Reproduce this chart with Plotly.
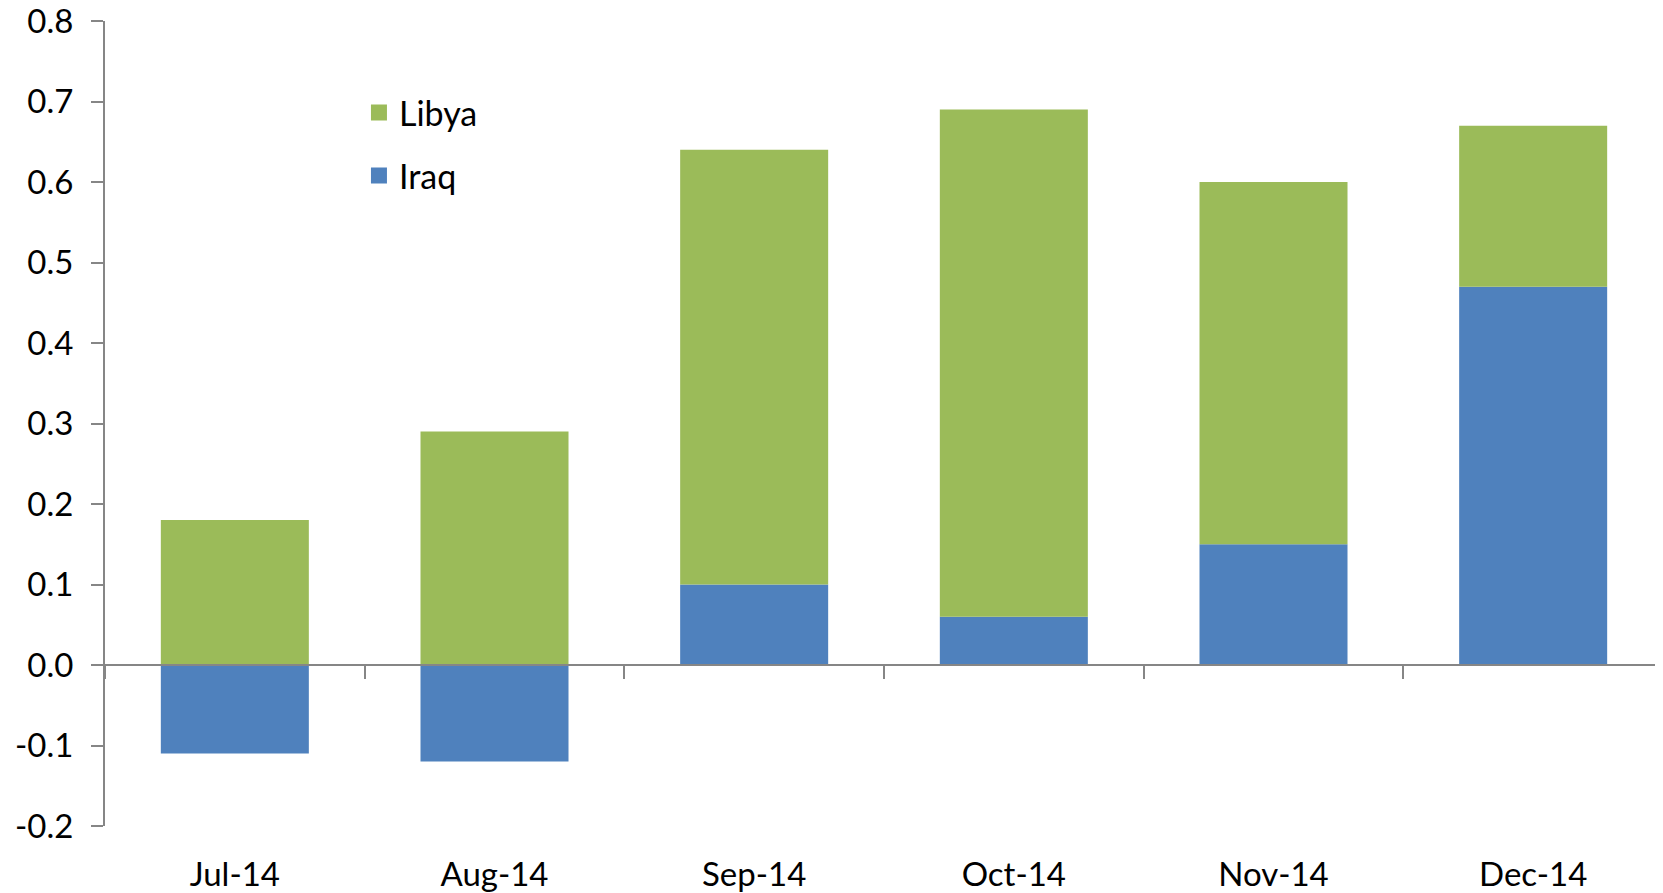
import plotly.graph_objects as go

months = ["Jul-14", "Aug-14", "Sep-14", "Oct-14", "Nov-14", "Dec-14"]
iraq = [-0.11, -0.12, 0.10, 0.06, 0.15, 0.47]
libya = [0.18, 0.29, 0.54, 0.63, 0.45, 0.20]
y_ticks = [-0.2, -0.1, 0.0, 0.1, 0.2, 0.3, 0.4, 0.5, 0.6, 0.7, 0.8]

GREEN = "#9BBB59"
BLUE = "#4F81BD"
AXIS = "#868686"
FONT = "Lato"

fig = go.Figure()
fig.add_bar(x=months, y=iraq, name="Iraq", marker_color=BLUE, marker_line_width=0, showlegend=False)
fig.add_bar(x=months, y=libya, name="Libya", marker_color=GREEN, marker_line_width=0, showlegend=False)

# legend entries
fig.add_scatter(x=[None], y=[None], mode="markers", name="Libya", legendgroup="a",
                marker=dict(symbol="square", size=16, color=GREEN))
fig.add_scatter(x=[None], y=[None], mode="markers", name="Iraq", legendgroup="b",
                marker=dict(symbol="square", size=16, color=BLUE))

n = len(months)
boundaries = [i - 0.5 for i in range(n + 1)]

# page body has an 8px margin, so the figure is 8px smaller on each side
fig.update_layout(
    width=1655, height=885,
    barmode="relative", bargap=0.43,
    plot_bgcolor="white", paper_bgcolor="white",
    margin=dict(l=97, r=0, t=13, b=67),
    font=dict(family=FONT, size=33, color="black"),
    legend=dict(x=0.163, y=0.922, xanchor="left", yanchor="top",
                traceorder="grouped", tracegroupgap=16,
                font=dict(size=34), bgcolor="rgba(0,0,0,0)"),
    xaxis=dict(type="category", showline=False, ticks="", showgrid=False,
               zeroline=False, ticklabelstandoff=26, automargin=False),
    xaxis2=dict(overlaying="x", anchor="free", position=0.2, range=[-0.5, n - 0.5],
                tickvals=boundaries, ticks="outside", ticklen=13, tickwidth=1.5,
                tickcolor=AXIS, showline=True, linecolor=AXIS, linewidth=2,
                showticklabels=False, showgrid=False, zeroline=False, automargin=False),
    yaxis=dict(range=[-0.2, 0.8], tickvals=y_ticks,
               ticktext=[f"{v:.1f}" for v in y_ticks],
               showgrid=False, zeroline=False, showline=True, linecolor=AXIS,
               linewidth=2, ticks="outside", ticklen=12, tickwidth=1.5,
               tickcolor=AXIS, ticklabelstandoff=11, automargin=False,
               ticklabeloverflow="allow"),
)
# dummy trace to activate xaxis2
fig.add_scatter(x=[None], y=[None], xaxis="x2", showlegend=False, hoverinfo="skip")

fig.write_html("out.html")
